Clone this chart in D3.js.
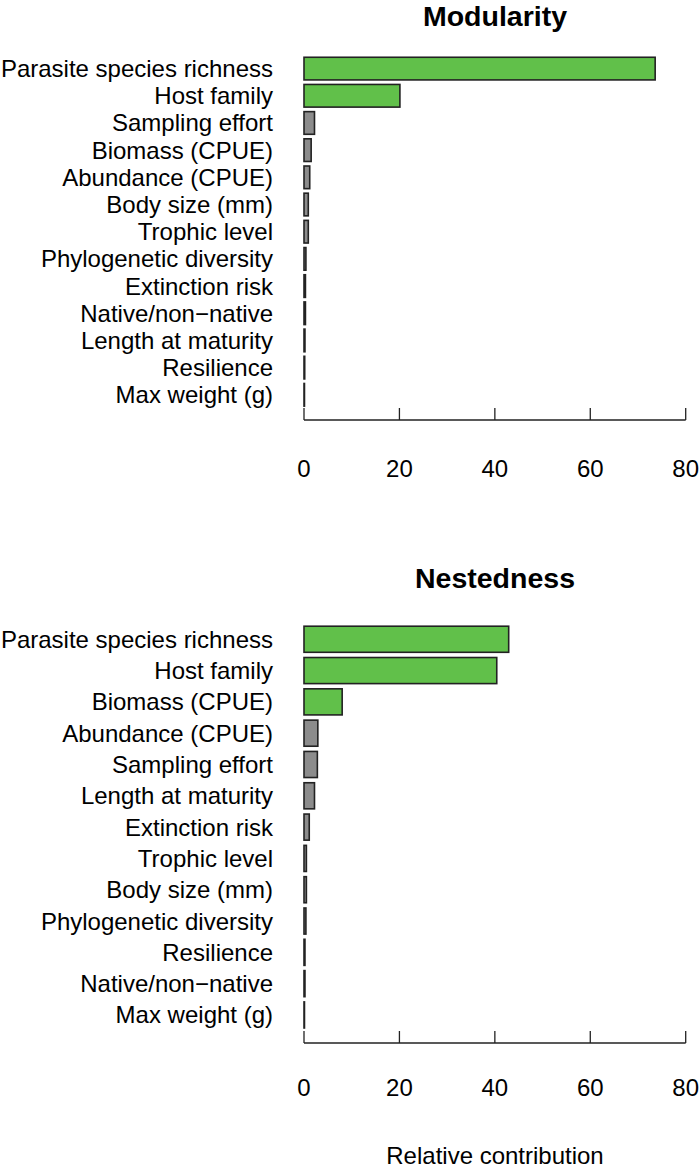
<!DOCTYPE html>
<html>
<head>
<meta charset="utf-8">
<script src="https://cdn.jsdelivr.net/npm/d3@7"></script>
<style>
  html, body { margin: 0; padding: 0; background: #fff; }
  text { font-family: "Liberation Sans", Arial, Helvetica, sans-serif; fill: #000; }
</style>
</head>
<body>
<svg id="chart" width="700" height="1167"></svg>
<script>
// ---- Data ----
const modularityLabels = ["Parasite species richness", "Host family", "Sampling effort", "Biomass (CPUE)",
  "Abundance (CPUE)", "Body size (mm)", "Trophic level", "Phylogenetic diversity", "Extinction risk",
  "Native/non\u2212native", "Length at maturity", "Resilience", "Max weight (g)"];
const modularityValues = [73.6, 20.1, 2.2, 1.5, 1.2, 0.9, 0.9, 0.4, 0.3, 0.3, 0.2, 0.15, 0.1];
const modularityHighlight = [true, true, false, false, false, false, false, false, false, false, false, false, false];

const nestednessLabels = ["Parasite species richness", "Host family", "Biomass (CPUE)", "Abundance (CPUE)",
  "Sampling effort", "Length at maturity", "Extinction risk", "Trophic level", "Body size (mm)",
  "Phylogenetic diversity", "Resilience", "Native/non\u2212native", "Max weight (g)"];
const nestednessValues = [42.9, 40.4, 8.0, 2.9, 2.8, 2.2, 1.1, 0.5, 0.5, 0.4, 0.2, 0.2, 0.1];
const nestednessHighlight = [true, true, true, false, false, false, false, false, false, false, false, false, false];

const xTicks = [0, 20, 40, 60, 80];
const xLabel = "Relative contribution";

// ---- Drawing ----
const svg = d3.select("#chart");
const x = d3.scaleLinear().domain([0, 80]).range([304, 685.7]);
const green = "#61C04A", grey = "#8C8C8C";

function panel(title, labels, values, highlight, yRange, axisY, tickLabelY, titleY) {
  const y = d3.scaleBand().domain(labels).range(yRange).paddingInner(0.2 / 1.2).paddingOuter(0.1 / 1.2);
  const g = svg.append("g");

  g.append("text").attr("x", 495).attr("y", titleY).attr("text-anchor", "middle")
    .style("font-weight", "bold").style("font-size", "28.5px").text(title);

  g.selectAll("rect.bar").data(values).join("rect")
    .attr("class", "bar")
    .attr("x", x(0))
    .attr("y", (d, i) => y(labels[i]))
    .attr("width", d => Math.max(0, x(d) - x(0)))
    .attr("height", y.bandwidth())
    .attr("fill", (d, i) => highlight[i] ? green : grey)
    .attr("stroke", "#222").attr("stroke-width", 1.6);

  g.selectAll("text.lab").data(labels).join("text")
    .attr("class", "lab")
    .attr("x", 273)
    .attr("y", d => y(d) + y.bandwidth() / 2)
    .attr("text-anchor", "end").attr("dominant-baseline", "central")
    .style("font-size", "24px").text(d => d);

  // axis
  const ax = g.append("g").attr("transform", `translate(0,${axisY})`);
  ax.append("line").attr("x1", x(0)).attr("x2", x(80)).attr("stroke", "#222").attr("stroke-width", 1.3);
  ax.selectAll("line.tick").data(xTicks).join("line").attr("class", "tick")
    .attr("x1", d => x(d)).attr("x2", d => x(d)).attr("y1", 0).attr("y2", -12)
    .attr("stroke", "#222").attr("stroke-width", 1.3);
  g.selectAll("text.tl").data(xTicks).join("text").attr("class", "tl")
    .attr("x", d => x(d)).attr("y", tickLabelY).attr("text-anchor", "middle")
    .attr("dominant-baseline", "central").style("font-size", "24px").text(d => d);
}

panel("Modularity", modularityLabels, modularityValues, modularityHighlight, [55, 408.4], 420, 468, 26);
panel("Nestedness", nestednessLabels, nestednessValues, nestednessHighlight, [623.6, 1030.6], 1043, 1087, 588);

svg.append("text").attr("x", 495).attr("y", 1155).attr("text-anchor", "middle")
  .attr("dominant-baseline", "central").style("font-size", "24px").text(xLabel);
</script>
</body>
</html>
